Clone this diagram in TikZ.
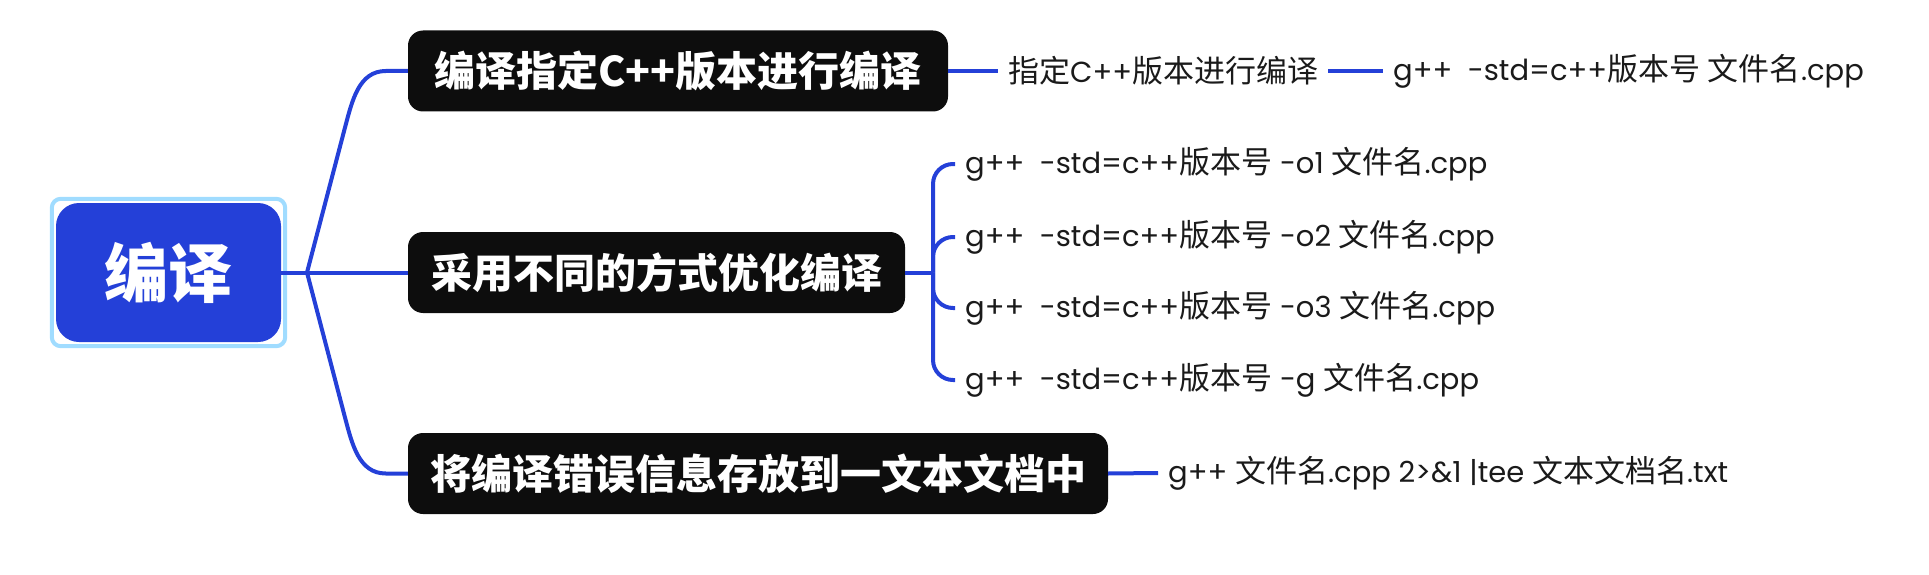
\documentclass[tikz,border=0pt]{standalone}
\usepackage{fontspec}
\setmainfont{Noto Sans CJK SC}
\newfontfamily\lat{Poppins}[Scale=0.935]
\usetikzlibrary{calc}

\definecolor{mapblue}{HTML}{2440D8}
\definecolor{frameblue}{HTML}{A0DCFF}
\definecolor{boxblack}{HTML}{0D0D0D}
\definecolor{leafink}{HTML}{1A1A1A}

\newcommand\gstd[1]{{\lat g++\ \ -std=c++}版本号{\lat\ #1 }文件名{\lat .cpp}}

\begin{document}
\begin{tikzpicture}[x=1pt,y=-1pt,
    branch/.style={draw=mapblue, line width=4pt},
    topic/.style={fill=boxblack, text=white, rounded corners=15pt, minimum height=81pt,
      inner xsep=0pt, font=\fontsize{41pt}{48pt}\selectfont\bfseries},
    leaf/.style={anchor=west, inner xsep=10pt, inner ysep=0pt, text=leafink,
      font=\fontsize{31pt}{36pt}\selectfont}]
  \useasboundingbox (0,0) rectangle (1929,575);

  % root
  \node [fill=mapblue, text=white, rounded corners=23pt, minimum width=225pt, minimum height=139pt,
    font=\fontsize{64pt}{72pt}\selectfont\bfseries] (root) at (168.5,272.5) {编译};
  \draw [frameblue, line width=4pt, rounded corners=9pt]
    ([shift={(-4pt,4pt)}]root.north west) rectangle ([shift={(4pt,-4pt)}]root.south east);

  % main topics
  \node [topic, minimum width=540pt] (top) at (678,71) {编译指定C++版本进行编译};
  \node [topic, minimum width=497pt] (mid) at (656.5,272.5) {采用不同的方式优化编译};
  \node [topic, minimum width=700pt] (bottom) at (758,473.5) {将编译错误信息存放到一文本文档中};

  % leaves
  \node [leaf] (spec) at (998,71) {指定{\lat C++}版本进行编译};
  \node [leaf] (specstd) at (1383,71) {{\lat g++\ \ -std=c++}版本号{\lat\ }文件名{\lat .cpp}};
  \node [leaf] (opt1) at (955,164) {\gstd{-o1}};
  \node [leaf] (opt2) at (955,237) {\gstd{-o2}};
  \node [leaf] (opt3) at (955,308) {\gstd{-o3}};
  \node [leaf] (dbg) at (955,380) {\gstd{-g}};
  \node [leaf] (logcmd) at (1158,473) {{\lat g++ }文件名{\lat .cpp 2>\&1 |tee }文本文档名{\lat .txt}};

  \coordinate (fork) at (307,272.5);
  \coordinate (optfork) at (933,272.5);

  \draw [branch] (root.east) -- (fork) -- (mid.west);
  \draw [branch] (fork) -- +(38pt,145pt) to[out=75,in=180] ([xshift=-22pt]top.west) -- (top.west);
  \draw [branch] (fork) -- +(38pt,-145pt) to[out=-75,in=180] ([xshift=-22pt]bottom.west) -- (bottom.west);

  \draw [branch] (top.east) -- (spec.west);
  \draw [branch] (spec.east) -- (specstd.west);
  \draw [branch] (mid.east) -- (optfork);
  \foreach \n in {opt1,opt2,opt3,dbg}
    \draw [branch, rounded corners=20pt] (optfork) |- (\n.west);
  \draw [branch] (bottom.east) -- (logcmd.west);
\end{tikzpicture}
\end{document}
